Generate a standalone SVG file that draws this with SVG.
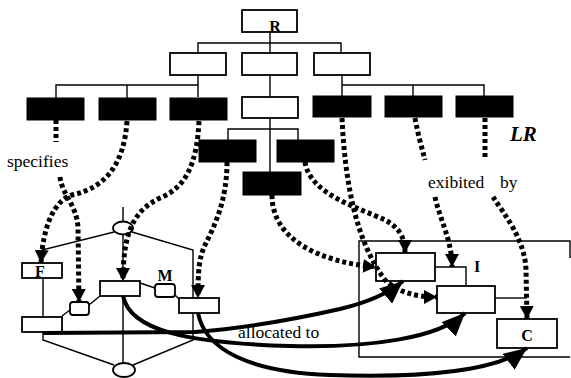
<svg xmlns="http://www.w3.org/2000/svg" width="571" height="378" viewBox="0 0 571 378">
  <style>
    .box { fill: #fff; stroke: #000; stroke-width: 1.8; }
    .blk { fill: #000; stroke: #000; stroke-width: 1; }
    .ln { fill: none; stroke: #000; stroke-width: 1.4; }
    .dot { fill: none; stroke: #000; stroke-width: 5; stroke-dasharray: 4 3; }
    .thick { fill: none; stroke: #000; stroke-width: 4; }
    .lbl { font-family: "Liberation Serif", "Times New Roman", serif; font-size: 17.5px; fill: #000; }
    .b { font-family: "Liberation Serif", "Times New Roman", serif; font-weight: bold; font-size: 16px; fill: #000; }
  </style>
  <defs>
    <marker id="ah" markerUnits="userSpaceOnUse" markerWidth="14" markerHeight="14" refX="13" refY="7" orient="auto">
      <path d="M0,0 L13,7 L0,14 z" fill="#000"/>
    </marker>
    <marker id="ahBig" markerUnits="userSpaceOnUse" markerWidth="24" markerHeight="20" refX="23" refY="10" orient="auto">
      <path d="M0,0 L23,10 L0,20 z" fill="#000"/>
    </marker>
  </defs>

  <!-- hierarchy tree lines -->
  <g id="tree-lines" class="ln">
    <path d="M270,32 V53 M198,53 V43 H341 V53"/>
    <path d="M198,75 V97 M198,85 H56 V98 M127,85 V98"/>
    <path d="M342,75 V96 M342,85 H484 V96 M413,85 V96"/>
    <path d="M270,75 V97 M270,118 V172 M228,140 V129 H298 V140"/>
  </g>

  <!-- hierarchy nodes -->
  <g id="node-R"><rect class="box" x="242" y="10" width="55" height="22"/><text class="b" x="275" y="32" text-anchor="middle" font-size="20">R</text></g>
  <g id="node-r2a"><rect class="box" x="170" y="53" width="56" height="22"/></g>
  <g id="node-r2b"><rect class="box" x="242" y="53" width="55" height="22"/></g>
  <g id="node-r2c"><rect class="box" x="314" y="53" width="56" height="22"/></g>
  <g id="node-lr1"><rect class="blk" x="27" y="98" width="57" height="22"/></g>
  <g id="node-lr2"><rect class="blk" x="99" y="98" width="57" height="22"/></g>
  <g id="node-lr3"><rect class="blk" x="170" y="98" width="57" height="22"/></g>
  <g id="node-r3mid"><rect class="box" x="242" y="97" width="56" height="21"/></g>
  <g id="node-lr4"><rect class="blk" x="313" y="96" width="58" height="21"/></g>
  <g id="node-lr5"><rect class="blk" x="385" y="96" width="57" height="21"/></g>
  <g id="node-lr6"><rect class="blk" x="456" y="96" width="57" height="21"/></g>
  <g id="node-lr7"><rect class="blk" x="199" y="140" width="57" height="22"/></g>
  <g id="node-lr8"><rect class="blk" x="277" y="140" width="57" height="22"/></g>
  <g id="node-lr9"><rect class="blk" x="243" y="172" width="58" height="23"/></g>

  <!-- M structure lines -->
  <g id="m-lines" class="ln">
    <path d="M123,207 V222 M123,235 V281 M123,296 V363"/>
    <path d="M114,232 L42,250 V263"/>
    <path d="M132,232 L193,250 V298"/>
    <path d="M43,278 V317 M43,332 V340 L114,365"/>
    <path d="M133,365 L193,340 V313"/>
    <path d="M62,316 L70,310 M89,305 L100,296 M140,283 L155,288 M175,295 L179,299"/>
  </g>

  <!-- M structure nodes -->
  <g id="node-top-ellipse"><ellipse class="box" cx="123" cy="228" rx="10" ry="6.5"/></g>
  <g id="node-bottom-ellipse"><ellipse class="box" cx="124" cy="370" rx="11" ry="7"/></g>
  <g id="node-F"><rect class="box" x="22" y="263" width="40" height="15"/><text class="b" x="40" y="277" text-anchor="middle">F</text></g>
  <g id="node-m-bl"><rect class="box" x="22" y="317" width="40" height="15"/></g>
  <g id="node-m-small"><rect class="box" x="70" y="302" width="19" height="13" rx="3"/></g>
  <g id="node-m-center"><rect class="box" x="100" y="281" width="40" height="15"/></g>
  <g id="node-M"><rect class="box" x="155" y="284" width="20" height="13" rx="3"/><text class="b" x="165" y="281" text-anchor="middle">M</text></g>
  <g id="node-m-right"><rect class="box" x="179" y="298" width="40" height="15"/></g>

  <!-- I region -->
  <g id="node-I-region">
    <path class="ln" d="M570,258 V241 H359 V357 H570"/>
    <text class="b" x="477" y="272" text-anchor="middle">I</text>
  </g>
  <g id="i-lines" class="ln">
    <path d="M435,267 H466 V286"/>
    <path d="M495,298 H527"/>
  </g>
  <g id="node-I1"><rect class="box" x="376" y="253" width="59" height="28"/></g>
  <g id="node-I2"><rect class="box" x="437" y="286" width="58" height="27"/></g>
  <g id="node-C"><rect class="box" x="497" y="319" width="60" height="29"/><text class="b" x="527" y="341" text-anchor="middle">C</text></g>

  <!-- connectors -->
  <g id="connectors">
    <path class="dot" d="M56,120 V142"/>
    <path class="dot" d="M60,177 C62,195 77,205 78,228 L79,302" marker-end="url(#ah)"/>
    <path class="dot" d="M127,121 C124,165 105,188 72,195 C55,200 43,225 41,263" marker-end="url(#ah)"/>
    <path class="dot" d="M199,121 C197,165 185,188 160,198 C135,210 123,230 123,281" marker-end="url(#ah)"/>
    <path class="dot" d="M227,162 C227,200 215,225 205,245 C199,258 198,270 198,298" marker-end="url(#ah)"/>
    <path class="dot" d="M272,195 C272,240 320,262 376,267" marker-end="url(#ah)"/>
    <path class="dot" d="M305,162 C310,195 360,208 385,220 C400,228 405,238 405,253" marker-end="url(#ah)"/>
    <path class="dot" d="M342,118 C345,180 355,240 385,280 C398,292 415,297 437,297" marker-end="url(#ah)"/>
    <path class="dot" d="M415,118 C418,135 422,148 425,160"/>
    <path class="dot" d="M435,197 C440,220 452,240 452,267" marker-end="url(#ah)"/>
    <path class="dot" d="M485,118 V160"/>
    <path class="dot" d="M493,197 C505,215 525,240 526,270 L527,319" marker-end="url(#ah)"/>

    <path class="thick" d="M43,333 L195,332 C250,328 300,318 340,309 C365,303 388,294 403,281" marker-end="url(#ahBig)"/>
    <path class="thick" d="M123,296 C130,330 185,343 290,346 C370,348 440,338 465,313" marker-end="url(#ahBig)"/>
    <path class="thick" d="M198,313 C205,350 250,372 330,375 C420,378 495,372 527,348" marker-end="url(#ahBig)"/>
  </g>

  <!-- labels -->
  <text class="lbl" x="7" y="167">specifies</text>
  <text class="lbl" x="428" y="188">exibited</text>
  <text class="lbl" x="500" y="188">by</text>
  <text class="lbl" x="238" y="338">allocated to</text>
  <text x="510" y="141" font-family="Liberation Serif, serif" font-weight="bold" font-style="italic" font-size="21">LR</text>
</svg>
